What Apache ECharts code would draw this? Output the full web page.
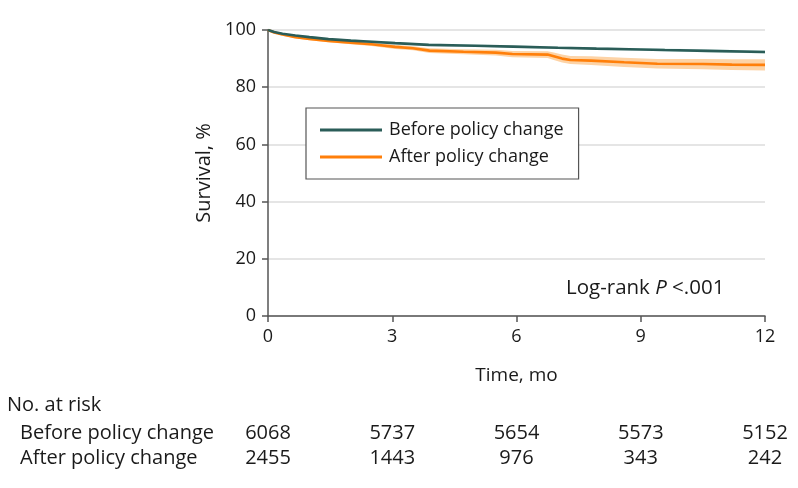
<!DOCTYPE html>
<html>
<head>
<meta charset="utf-8">
<script src="https://cdn.jsdelivr.net/npm/echarts@6/dist/echarts.min.js"></script>
<style>
html,body{margin:0;padding:0;background:#fff;}
#chart{width:798px;height:488px;}
</style>
</head>
<body>
<div id="chart"></div>
<script>
// ---- Data ----
const seriesNames = ['Before policy change', 'After policy change'];

const beforeT  = [0, 0.15, 0.35, 0.66, 1.0, 1.46, 2.0, 2.5, 3.07, 3.88, 5.0, 5.92, 7.0, 7.93, 9.0, 9.58, 10.62, 12];
const beforeS  = [100, 99.3, 98.7, 98.1, 97.5, 96.8, 96.3, 95.9, 95.4, 94.8, 94.5, 94.2, 93.8, 93.5, 93.2, 93.0, 92.7, 92.3];
const beforeLo = [100, 99.1, 98.4, 97.8, 97.1, 96.4, 95.9, 95.5, 95.0, 94.4, 94.1, 93.8, 93.4, 93.1, 92.8, 92.5, 92.2, 91.8];
const beforeHi = [100, 99.5, 99.0, 98.4, 97.9, 97.2, 96.7, 96.3, 95.8, 95.2, 94.9, 94.6, 94.2, 93.9, 93.6, 93.5, 93.2, 92.8];

const afterT  = [0, 0.15, 0.35, 0.66, 1.0, 1.46, 2.0, 2.5, 3.07, 3.5, 3.9, 4.72, 5.5, 5.9, 6.75, 6.9, 7.1, 7.3, 7.8, 8.6, 9.4, 10.5, 11.2, 12];
const afterS  = [100, 99.1, 98.4, 97.5, 96.9, 96.2, 95.6, 95.0, 94.1, 93.6, 92.8, 92.4, 92.1, 91.6, 91.4, 90.8, 90.0, 89.5, 89.3, 88.7, 88.2, 88.1, 87.9, 87.8];
const afterLo = [100, 98.8, 98.0, 97.1, 96.4, 95.7, 95.0, 94.4, 93.4, 92.9, 92.0, 91.5, 91.1, 90.5, 90.2, 89.5, 88.6, 88.1, 87.8, 87.1, 86.5, 86.3, 86.0, 85.8];
const afterHi = [100, 99.4, 98.8, 97.9, 97.4, 96.7, 96.2, 95.6, 94.8, 94.3, 93.6, 93.3, 93.1, 92.7, 92.6, 92.1, 91.4, 90.9, 90.8, 90.3, 89.9, 89.9, 89.8, 89.8];

const riskTimes   = [0, 3, 6, 9, 12];
const beforeRisk  = [6068, 5737, 5654, 5573, 5152];
const afterRisk   = [2455, 1443, 976, 343, 242];

const yTicks = [0, 20, 40, 60, 80, 100];
const xTicks = [0, 3, 6, 9, 12];

// ---- Styles ----
const FONT = 'Open Sans';
const TXT = '#1a1a1a';
const C_BEFORE = '#2b5d58';
const C_AFTER = '#ff7f0a';
const B_BEFORE = '#cfe9e6';
const B_AFTER = '#fdd3a6';

const pairs = (t, v) => t.map((x, i) => [x, v[i]]);

function bandSeries(t, lo, hi, color) {
  return {
    type: 'custom', silent: true, z: 1,
    data: [[t[0], lo[0]]],
    renderItem: function (params, api) {
      const pts = [];
      for (let i = 0; i < t.length; i++) pts.push(api.coord([t[i], hi[i]]));
      for (let i = t.length - 1; i >= 0; i--) pts.push(api.coord([t[i], lo[i]]));
      return {type: 'polygon', shape: {points: pts}, style: {fill: color}};
    }
  };
}

const chart = echarts.init(document.getElementById('chart'), null, {renderer: 'canvas'});

const option = {
  animation: false,
  backgroundColor: '#ffffff',
  textStyle: {fontFamily: FONT, color: TXT},
  grid: {left: 268, right: 33, top: 30, bottom: 172, containLabel: false},
  xAxis: {
    type: 'value', min: 0, max: 12, interval: 3,
    name: 'Time, mo', nameLocation: 'middle', nameGap: 50,
    nameTextStyle: {fontFamily: FONT, fontSize: 19, color: TXT},
    axisLine: {show: true, lineStyle: {color: '#555', width: 1.5}},
    axisTick: {show: true, length: 6, lineStyle: {color: '#555', width: 1.5}},
    axisLabel: {fontFamily: FONT, fontSize: 18, color: TXT, margin: 12,
      formatter: v => xTicks.includes(v) ? String(v) : ''},
    splitLine: {show: false}
  },
  yAxis: {
    type: 'value', min: 0, max: 100, interval: 20,
    name: 'Survival, %', nameLocation: 'middle', nameGap: 42,
    nameTextStyle: {fontFamily: FONT, fontSize: 20, color: TXT},
    axisLine: {show: true, lineStyle: {color: '#555', width: 1.5}},
    axisTick: {show: true, length: 6, lineStyle: {color: '#555', width: 1.5}},
    axisLabel: {fontFamily: FONT, fontSize: 18, color: TXT, margin: 12,
      formatter: v => yTicks.includes(v) ? String(v) : ''},
    splitLine: {show: true, lineStyle: {color: '#dcdcdc', width: 1.5}}
  },
  legend: {
    data: seriesNames,
    orient: 'vertical',
    left: 306, top: 108,
    padding: [12, 15, 12, 14],
    itemGap: 7,
    itemWidth: 62, itemHeight: 3,
    icon: 'rect',
    borderColor: '#555', borderWidth: 1.2,
    backgroundColor: '#fff',
    textStyle: {fontFamily: FONT, fontSize: 18, color: TXT, lineHeight: 20, padding: [0, 0, 0, 2]}
  },
  series: [
    bandSeries(afterT, afterLo, afterHi, B_AFTER),
    bandSeries(beforeT, beforeLo, beforeHi, B_BEFORE),
    {name: seriesNames[1], type: 'line', symbol: 'none',
     itemStyle: {color: C_AFTER}, lineStyle: {color: C_AFTER, width: 2.6},
     data: pairs(afterT, afterS), z: 3},
    {name: seriesNames[0], type: 'line', symbol: 'none',
     itemStyle: {color: C_BEFORE}, lineStyle: {color: C_BEFORE, width: 2.6},
     data: pairs(beforeT, beforeS), z: 4}
  ]
};
chart.setOption(option);

// ---- Log-rank text and number-at-risk table ----
const px = t => chart.convertToPixel({xAxisIndex: 0}, t);
const graphics = [];
graphics.push({
  type: 'text', x: 566, y: 288,
  style: {
    text: '{n|Log-rank }{i|P}{n| <.001}',
    verticalAlign: 'middle',
    rich: {
      n: {fontFamily: FONT, fontSize: 20.5, fill: TXT},
      i: {fontFamily: FONT, fontSize: 20.5, fontStyle: 'italic', fill: TXT}
    }
  }
});
graphics.push({type: 'text', x: 7, y: 405,
  style: {text: 'No. at risk', fontFamily: FONT, fontSize: 20, fill: TXT, verticalAlign: 'middle'}});
graphics.push({type: 'text', x: 20, y: 433,
  style: {text: seriesNames[0], fontFamily: FONT, fontSize: 20, fill: TXT, verticalAlign: 'middle'}});
graphics.push({type: 'text', x: 20, y: 458,
  style: {text: seriesNames[1], fontFamily: FONT, fontSize: 20, fill: TXT, verticalAlign: 'middle'}});
riskTimes.forEach((t, i) => {
  graphics.push({type: 'text', x: px(t), y: 433,
    style: {text: String(beforeRisk[i]), fontFamily: FONT, fontSize: 20, fill: TXT, align: 'center', verticalAlign: 'middle'}});
  graphics.push({type: 'text', x: px(t), y: 458,
    style: {text: String(afterRisk[i]), fontFamily: FONT, fontSize: 20, fill: TXT, align: 'center', verticalAlign: 'middle'}});
});
chart.setOption({graphic: graphics});
</script>
</body>
</html>
